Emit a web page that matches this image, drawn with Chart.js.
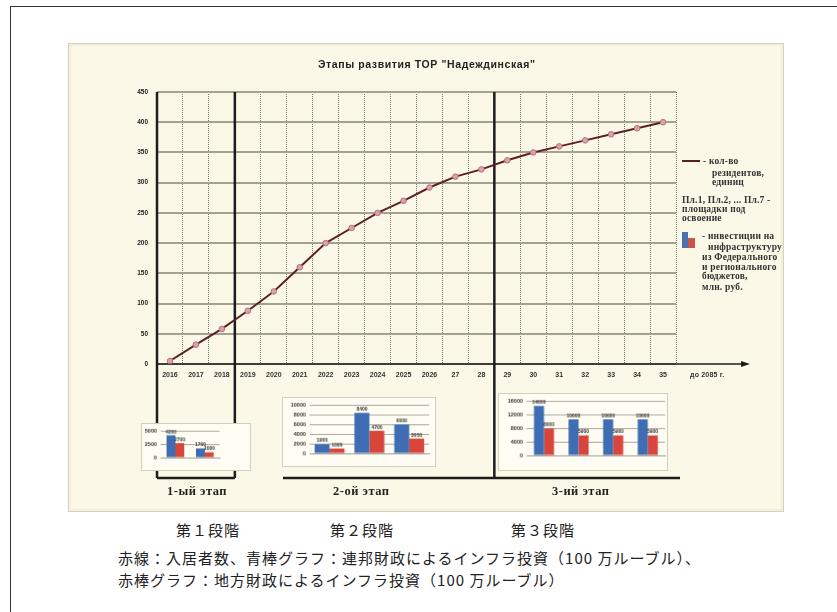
<!DOCTYPE html>
<html>
<head>
<meta charset="utf-8">
<script src="https://cdn.jsdelivr.net/npm/chart.js@4.4.1/dist/chart.umd.min.js"></script>
<style>
  html, body { margin: 0; padding: 0; background: #fff; width: 837px; height: 612px; overflow: hidden; position: relative; }
  .edge { position: absolute; background: #333; }
  .panel { position: absolute; left: 68px; top: 43px; width: 714px; height: 467px; background: #fcf8e8; border: 1px solid #d6d2bc; box-shadow: inset 0 0 0 2px #f3efdc; }
  canvas { position: absolute; }
  .box { background: #fefcf3; border: 1px solid #d2cfbd; }
  .t { position: absolute; white-space: nowrap; line-height: 1; }
  .title { font: bold 10.5px "Liberation Sans", Arial, sans-serif; color: #222; letter-spacing: 0.6px; }
  .leg { font: bold 9.5px "Liberation Serif", serif; color: #333; letter-spacing: 0.2px; }
  .stage { font: bold 12.5px "Liberation Serif", serif; color: #222; letter-spacing: 0.5px; }
  .jp { font: 15px "Noto Sans CJK JP", sans-serif; color: #222; letter-spacing: 1px; }
</style>
</head>
<body>
<div class="edge" style="left:10px;top:6px;width:827px;height:1px"></div>
<div class="edge" style="left:10px;top:6px;width:1px;height:606px"></div>
<div class="panel"></div>
<canvas id="mainChart" width="716" height="469" style="left:68px;top:43px"></canvas>
<canvas id="stage1Chart" class="box" width="110" height="48" style="left:141px;top:423px"></canvas>
<canvas id="stage2Chart" class="box" width="154" height="70" style="left:282px;top:397px"></canvas>
<canvas id="stage3Chart" class="box" width="170" height="78" style="left:498px;top:393px"></canvas>

<div class="t title" style="left:318px;top:58px">Этапы развития ТОР "Надеждинская"</div>
<div class="t leg" style="left:690px;top:371px;font-family:'Liberation Sans',sans-serif;font-size:7px">до 2085 г.</div>

<!-- legend -->
<div style="position:absolute;left:682px;top:160px;width:18px;height:1.5px;background:#5c1f24"></div>
<div class="t leg" style="left:703px;top:156px">- кол-во</div>
<div class="t leg" style="left:712px;top:168px">резидентов,</div>
<div class="t leg" style="left:712px;top:177px">единиц</div>
<div class="t leg" style="left:682px;top:195px">Пл.1, Пл.2, ... Пл.7 -</div>
<div class="t leg" style="left:682px;top:204px">площадки под</div>
<div class="t leg" style="left:682px;top:213px">освоение</div>
<div style="position:absolute;left:682px;top:232px;width:6px;height:16px;background:#4a6fb5"></div>
<div style="position:absolute;left:688px;top:238px;width:7px;height:10px;background:#c9544c"></div>
<div class="t leg" style="left:702px;top:231px">- инвестиции на</div>
<div class="t leg" style="left:708px;top:242px">инфраструктуру</div>
<div class="t leg" style="left:702px;top:252px">из Федерального</div>
<div class="t leg" style="left:702px;top:262px">и регионального</div>
<div class="t leg" style="left:702px;top:271px">бюджетов,</div>
<div class="t leg" style="left:702px;top:282px">млн. руб.</div>

<div class="t stage" style="left:167px;top:484px">1-ый этап</div>
<div class="t stage" style="left:333px;top:484px">2-ой этап</div>
<div class="t stage" style="left:552px;top:484px">3-ий этап</div>

<div class="t jp" style="left:176px;top:519px">第１段階</div>
<div class="t jp" style="left:330px;top:519px">第２段階</div>
<div class="t jp" style="left:511px;top:519px">第３段階</div>
<div class="t jp" style="left:118px;top:547px">赤線：入居者数、青棒グラフ：連邦財政によるインフラ投資（100 万ルーブル）、</div>
<div class="t jp" style="left:118px;top:569px">赤棒グラフ：地方財政によるインフラ投資（100 万ルーブル）</div>

<script>
// --- DATA ---
const years = ['2016', '2017', '2018', '2019', '2020', '2021', '2022', '2023', '2024', '2025', '2026',
               '27', '28', '29', '30', '31', '32', '33', '34', '35'];
const residents = [5, 32, 58, 88, 120, 160, 200, 225, 250, 270, 292, 310, 322, 337, 350, 360, 370, 380, 390, 400];
const stageEnds = ['2018', '28']; // last year of stage 1 and stage 2

const stage1Sites = ['Пл. 1', 'Пл. 2'];
const stage1Federal = [4200, 1700];
const stage1Regional = [2700, 1000];
const stage1Ticks = [0, 2500, 5000];

const stage2Sites = ['Пл. 2', 'Пл. 3', 'Пл. 4'];
const stage2Federal = [1900, 8400, 6000];
const stage2Regional = [1000, 4700, 3050];
const stage2Ticks = [0, 2000, 4000, 6000, 8000, 10000];

const stage3Sites = ['Пл. 3', 'Пл. 5', 'Пл. 6', 'Пл. 7'];
const stage3Federal = [14600, 10600, 10600, 10600];
const stage3Regional = [8000, 5900, 5900, 5900];
const stage3Ticks = [0, 2000, 4000, 6000, 8000, 10000, 12000, 14000, 16000];

const BLUE = '#3f6db3';
const RED = '#d8453a';

// --- MAIN CHART ---
const stagePlugin = {
    id: 'stages',
    beforeDatasetsDraw(chart) {
        const { ctx, chartArea: a, scales: { x } } = chart;
        const cell = x.getPixelForValue(1) - x.getPixelForValue(0);
        const edges = [a.left].concat(stageEnds.map(s => x.getPixelForValue(years.indexOf(s)) + cell / 2));
        const baseY = 435;
        ctx.save();
        ctx.strokeStyle = '#1c1c1c';
        ctx.lineWidth = 2.5;
        edges.forEach(px => {
            ctx.beginPath(); ctx.moveTo(px, a.top); ctx.lineTo(px, baseY); ctx.stroke();
        });
        // stage brackets
        ctx.beginPath(); ctx.moveTo(edges[0], baseY); ctx.lineTo(edges[1], baseY); ctx.stroke();
        ctx.beginPath(); ctx.moveTo(215, baseY); ctx.lineTo(612, baseY); ctx.stroke();
        // x axis with arrow
        ctx.lineWidth = 1.5;
        ctx.beginPath(); ctx.moveTo(a.left, a.bottom); ctx.lineTo(676, a.bottom); ctx.stroke();
        ctx.fillStyle = '#1c1c1c';
        ctx.beginPath(); ctx.moveTo(682, a.bottom); ctx.lineTo(673, a.bottom - 3); ctx.lineTo(673, a.bottom + 3); ctx.closePath(); ctx.fill();
        ctx.restore();
    }
};

new Chart(document.getElementById('mainChart'), {
    type: 'line',
    data: {
        labels: years,
        datasets: [{
            data: residents,
            borderColor: '#5c1f24',
            borderWidth: 2,
            pointRadius: 2.8,
            pointBackgroundColor: '#d9a3ac',
            pointBorderColor: '#b36f7c',
            pointBorderWidth: 1,
            tension: 0
        }]
    },
    options: {
        responsive: false,
        animation: false,
        layout: { padding: { left: 59, right: 108, top: 49, bottom: 128 } },
        scales: {
            x: {
                offset: true,
                afterFit: s => { s.height = 20; },
                grid: { color: '#77766a', lineWidth: 1, drawTicks: false, offset: true },
                border: { display: false, dash: [1, 1] },
                ticks: { padding: 7, maxRotation: 0, autoSkip: false, color: '#333',
                         font: { family: 'Liberation Sans', size: 7, weight: 'bold' } }
            },
            y: {
                min: 0, max: 450,
                afterFit: s => { s.width = 30; },
                grid: { color: '#a3a18f', lineWidth: 2, drawTicks: false },
                border: { display: false },
                ticks: { stepSize: 50, padding: 9, color: '#222',
                         font: { family: 'Liberation Sans', size: 6.5, weight: 'bold' } }
            }
        },
        plugins: { legend: { display: false }, tooltip: { enabled: false } }
    },
    plugins: [stagePlugin]
});

// --- SMALL STAGE CHARTS ---
const valueLabels = {
    id: 'valueLabels',
    afterDatasetsDraw(chart) {
        const { ctx } = chart;
        ctx.save();
        ctx.font = 'bold 5px "Liberation Sans"';
        ctx.fillStyle = '#333';
        ctx.textAlign = 'center';
        ctx.textBaseline = 'bottom';
        chart.data.datasets.forEach((ds, i) => {
            chart.getDatasetMeta(i).data.forEach((bar, j) => {
                ctx.fillText(ds.data[j], bar.x, bar.y - 1);
            });
        });
        ctx.restore();
    }
};

function stageChart(id, sites, federal, regional, tickValues, yWidth, pad, catPct) {
    const tickFont = { family: 'Liberation Sans', size: 5.5, weight: 'bold' };
    return new Chart(document.getElementById(id), {
        type: 'bar',
        data: {
            labels: sites,
            datasets: [
                { data: federal, backgroundColor: BLUE, categoryPercentage: catPct, barPercentage: 1 },
                { data: regional, backgroundColor: RED, categoryPercentage: catPct, barPercentage: 1 }
            ]
        },
        options: {
            responsive: false,
            animation: false,
            layout: { padding: pad },
            scales: {
                x: {
                    afterFit: s => { s.height = 11; },
                    grid: { display: false },
                    border: { color: '#9a9a90' },
                    ticks: { padding: 2, color: '#333', font: tickFont }
                },
                y: {
                    min: 0, max: tickValues[tickValues.length - 1],
                    afterFit: s => { s.width = yWidth; },
                    afterBuildTicks: s => { s.ticks = tickValues.map(v => ({ value: v })); },
                    grid: { color: '#a8a79c', lineWidth: 1, drawTicks: false },
                    border: { display: false },
                    ticks: { padding: 4, color: '#333', font: tickFont, callback: v => String(v) }
                }
            },
            plugins: { legend: { display: false }, tooltip: { enabled: false } }
        },
        plugins: [valueLabels]
    });
}

stageChart('stage1Chart', stage1Sites, stage1Federal, stage1Regional, stage1Ticks, 16,
           { left: 3, right: 31, top: 7, bottom: 2 }, 0.6);
stageChart('stage2Chart', stage2Sites, stage2Federal, stage2Regional, stage2Ticks, 20,
           { left: 7, right: 6, top: 7, bottom: 2 }, 0.75);
stageChart('stage3Chart', stage3Sites, stage3Federal, stage3Regional, stage3Ticks, 22,
           { left: 6, right: 2, top: 5, bottom: 4 }, 0.58);
</script>
</body>
</html>
